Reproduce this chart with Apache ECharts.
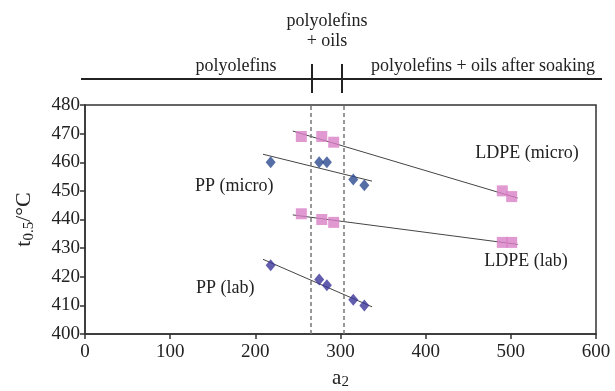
<!DOCTYPE html>
<html>
<head>
<meta charset="utf-8">
<script src="https://cdn.jsdelivr.net/npm/echarts@6/dist/echarts.min.js"></script>
<style>
  html, body { margin: 0; padding: 0; background: #fff; }
  #chart { width: 615px; height: 391px; }
</style>
</head>
<body>
<div id="chart"></div>
<script>
// measured points [a2, t0.5]
var ldpeMicro = [[254, 469], [278, 469], [292, 467], [490, 450], [501, 448]]
var ldpeLab = [[254, 442], [278, 440], [292, 439], [490, 432], [501, 432]]
var ppMicro = [[218, 460], [275, 460], [284, 460], [315, 454], [328, 452]]
var ppLab = [[218, 424], [275, 419], [284, 417], [315, 412], [328, 410]]

// fitted lines (end points)
var ldpeMicroFit = [[244, 470.9], [508, 447.5]]
var ldpeLabFit = [[244, 441.6], [508, 431.3]]
var ppMicroFit = [[209, 462.8], [337, 453.4]]
var ppLabFit = [[209, 426.1], [337, 409.5]]

// region borders
var borders = [265, 304]

var font = 'Liberation Serif'
var pink = '#d97fc6'
var axisColor = '#333'

var chart = echarts.init(document.getElementById('chart'))

function fitLine(data) {
  return {
    type: 'line',
    data: data,
    showSymbol: false,
    silent: true,
    lineStyle: { color: '#444', width: 1 },
    z: 1
  }
}

function textEl(x, y, text, align) {
  return {
    type: 'text',
    x: x,
    y: y,
    style: {
      text: text,
      fontFamily: font,
      fontSize: 18,
      fill: '#222',
      align: align || 'center',
      verticalAlign: 'middle'
    }
  }
}

function lineEl(x1, y1, x2, y2) {
  return {
    type: 'line',
    shape: { x1: x1, y1: y1, x2: x2, y2: y2 },
    style: { stroke: '#222', lineWidth: 2 }
  }
}

var option = {
  animation: false,
  grid: {
    left: 85,
    right: 19,
    top: 105,
    bottom: 57,
    show: true,
    outerBoundsMode: 'none',
    containLabel: false,
    borderColor: axisColor,
    borderWidth: 1.5
  },
  xAxis: {
    type: 'value',
    min: 0,
    max: 600,
    interval: 100,
    name: '{a|a}{s|2}',
    nameLocation: 'middle',
    nameGap: 33,
    nameTextStyle: {
      rich: {
        a: { fontFamily: font, fontSize: 21, color: '#222' },
        s: { fontFamily: font, fontSize: 15, color: '#222', verticalAlign: 'bottom', padding: [8, 0, 0, 0] }
      }
    },
    axisLine: { lineStyle: { color: axisColor, width: 1.5 } },
    axisTick: { length: 5, lineStyle: { color: axisColor, width: 1.5 } },
    axisLabel: { fontFamily: font, fontSize: 19, color: '#222', margin: 9 },
    splitLine: { show: false }
  },
  yAxis: {
    type: 'value',
    min: 400,
    max: 480,
    interval: 10,
    name: '{a|t}{s|0.5}{a|/°C}',
    nameLocation: 'middle',
    nameGap: 48,
    nameRotate: 90,
    nameTextStyle: {
      rich: {
        a: { fontFamily: font, fontSize: 22, color: '#222' },
        s: { fontFamily: font, fontSize: 15, color: '#222', padding: [10, 0, 0, 0] }
      }
    },
    axisLine: { lineStyle: { color: axisColor, width: 1.5 } },
    axisTick: { length: 5, lineStyle: { color: axisColor, width: 1.5 } },
    axisLabel: { fontFamily: font, fontSize: 19, color: '#222', margin: 5 },
    splitLine: { show: false }
  },
  series: [
    fitLine(ldpeMicroFit),
    fitLine(ldpeLabFit),
    fitLine(ppMicroFit),
    fitLine(ppLabFit),
    {
      type: 'scatter',
      data: ldpeMicro,
      symbol: 'rect',
      symbolSize: 11,
      itemStyle: { color: pink },
      z: 3,
      markLine: {
        silent: true,
        symbol: ['none', 'none'],
        label: { show: false },
        lineStyle: { color: '#777', type: [4, 3], width: 1.5 },
        data: borders.map(function (b) { return { xAxis: b } })
      }
    },
    {
      type: 'scatter',
      data: ldpeLab,
      symbol: 'rect',
      symbolSize: 11,
      itemStyle: { color: pink },
      z: 3
    },
    {
      type: 'scatter',
      data: ppMicro,
      symbol: 'diamond',
      symbolSize: [10, 12],
      itemStyle: { color: '#2b4a8f' },
      z: 3
    },
    {
      type: 'scatter',
      data: ppLab,
      symbol: 'diamond',
      symbolSize: [10, 12],
      itemStyle: { color: '#3c3599' },
      z: 3
    }
  ],
  graphic: [
    lineEl(81, 79, 602, 79),
    lineEl(312, 64, 312, 93),
    lineEl(342, 64, 342, 93),
    textEl(327, 21, 'polyolefins'),
    textEl(327, 41, '+ oils'),
    textEl(236, 66, 'polyolefins'),
    textEl(483, 66, 'polyolefins + oils after soaking'),
    textEl(527, 153, 'LDPE (micro)'),
    textEl(526, 261, 'LDPE (lab)'),
    textEl(195, 186, 'PP (micro)', 'left'),
    textEl(196, 288, 'PP (lab)', 'left')
  ]
}

chart.setOption(option)
</script>
</body>
</html>
